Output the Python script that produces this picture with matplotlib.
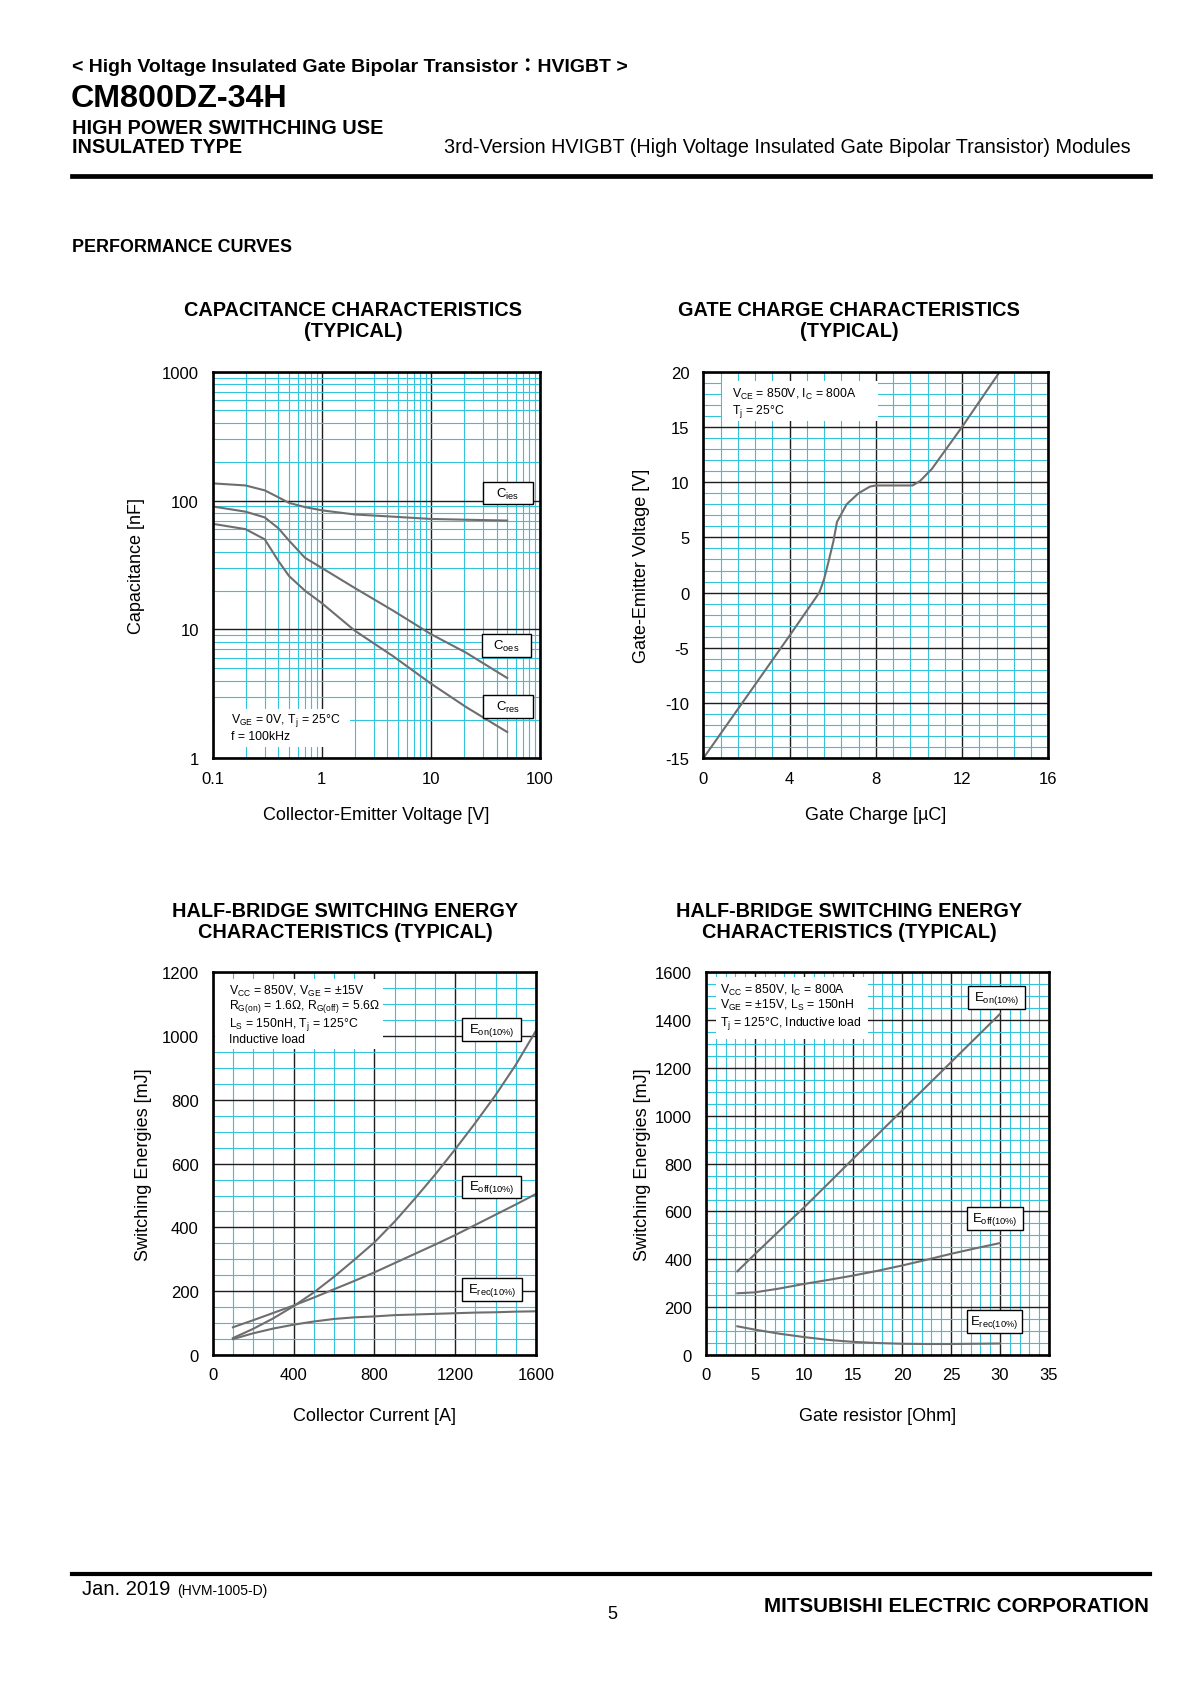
import matplotlib
matplotlib.use("Agg")
import matplotlib.pyplot as plt
from matplotlib import font_manager
from matplotlib.patches import Rectangle
from matplotlib.ticker import MultipleLocator, NullFormatter

plt.rcParams['font.family'] = ['Liberation Sans', 'Noto Sans CJK JP', 'DejaVu Sans']
plt.rcParams['mathtext.fontset'] = 'custom'
plt.rcParams['mathtext.rm'] = 'Liberation Sans'
plt.rcParams['mathtext.it'] = 'Liberation Sans:italic'
plt.rcParams['mathtext.bf'] = 'Liberation Sans:bold'
plt.rcParams['axes.unicode_minus'] = False

W, H = 1190, 1683
CYAN = '#33c3db'
MAJOR = '#1e1e1e'
CURVE = '#6e6e6e'

# capacitance characteristics
cap_vce = [0.1, 0.2, 0.3, 0.4, 0.5, 0.7, 1, 2, 4.5, 10, 21, 50]
cap_cies = [136, 131, 120, 106, 96, 89, 84, 78, 75, 72, 71, 70]
cap_coes = [90, 82, 74, 61, 49, 36, 30, 21, 14, 9.2, 6.6, 4.2]
cap_cres = [66, 60, 50, 34, 26, 20, 16, 9.8, 6.2, 3.8, 2.5, 1.6]
cap_xticks = [0.1, 1, 10, 100]
cap_xticklabels = ['0.1', '1', '10', '100']
cap_yticks = [1, 10, 100, 1000]
cap_yticklabels = ['1', '10', '100', '1000']

# gate charge characteristics
qg = [0, 2, 4, 5.38, 5.6, 5.8, 6.03, 6.2, 6.65, 7.2, 7.73, 8.0, 9.7, 10.05, 10.6, 12, 13.75]
vge = [-15, -9.45, -3.9, 0, 1.2, 2.75, 4.6, 6.4, 8.0, 9.0, 9.6, 9.7, 9.7, 10.1, 11.2, 15, 20]

# switching energy vs collector current
ic = [100, 200, 300, 400, 500, 600, 700, 800, 900, 1000, 1100, 1200, 1300, 1400, 1500, 1600]
eon_ic = [53, 82, 115, 153, 196, 245, 298, 353, 418, 490, 565, 645, 728, 815, 910, 1017]
eoff_ic = [87, 109, 132, 155, 180, 206, 232, 259, 288, 317, 346, 376, 408, 440, 472, 505]
erec_ic = [50, 68, 83, 95, 105, 113, 118, 121, 125, 127, 129, 131, 133, 134, 136, 137]

# switching energy vs gate resistor
rg = [3.2, 5, 7.5, 10, 12.5, 15, 17.5, 20, 22.5, 25, 27.5, 30]
eon_rg = [350, 422, 520, 617, 718, 820, 921, 1022, 1123, 1224, 1325, 1426]
eoff_rg = [258, 262, 278, 297, 314, 332, 352, 374, 398, 423, 446, 468]
erec_rg = [120, 106, 89, 75, 63, 55, 50, 47, 46, 46, 47, 48]

fig = plt.figure(figsize=(11.9, 16.83), dpi=100)


def fx(x):
    return x / W


def fy(y):
    return 1 - y / H


def px_axes(l, t, r, b):
    return fig.add_axes([l / W, 1 - b / H, (r - l) / W, (b - t) / H])


def style(ax, xlabel, ylabel, xlab_y, ylab_x):
    ax.set_axisbelow(True)
    ax.grid(which='minor', color=CYAN, lw=0.8)
    ax.grid(which='major', color=MAJOR, lw=1.0)
    ax.tick_params(which='both', length=0, labelsize=12)
    ax.tick_params(axis='x', pad=9)
    ax.tick_params(axis='y', pad=10)
    for s in ax.spines.values():
        s.set_linewidth(1.9)
    ax.set_xlabel(xlabel, fontsize=13, va='center')
    ax.set_ylabel(ylabel, fontsize=13, va='center')
    ax.xaxis.set_label_coords(0.5, xlab_y)
    ax.yaxis.set_label_coords(ylab_x, 0.5)


def label_box(ax, x0, x1, y0, y1, txt):
    ax.add_patch(Rectangle((x0, y0), x1 - x0, y1 - y0, transform=ax.transAxes,
                           fc='white', ec='black', lw=1.0, zorder=4))
    ax.text((x0 + x1) / 2, (y0 + y1) / 2, txt, transform=ax.transAxes,
            ha='center', va='center', fontsize=9.5, zorder=5)


def cond_box(ax, x0, x1, y0, y1, tx, lines_y, lines):
    ax.add_patch(Rectangle((x0, y0), x1 - x0, y1 - y0, transform=ax.transAxes,
                           fc='white', ec='none', zorder=1))
    for ly, t in zip(lines_y, lines):
        ax.text(tx, ly, t, transform=ax.transAxes, ha='left', va='center',
                fontsize=8.8, zorder=5)


# ---- header ----
fig.text(fx(72), fy(67), '< High Voltage Insulated Gate Bipolar Transistor：HVIGBT >',
         fontsize=14, fontweight='bold', va='center')
fig.text(fx(71), fy(99), 'CM800DZ-34H', fontsize=23.2, fontweight='bold', va='center')
fig.text(fx(72), fy(128), 'HIGH POWER SWITHCHING USE', fontsize=14.3, fontweight='bold', va='center')
fig.text(fx(72), fy(147.5), 'INSULATED TYPE', fontsize=14.3, fontweight='bold', va='center')
fig.text(fx(444), fy(147.5),
         '3rd-Version HVIGBT (High Voltage Insulated Gate Bipolar Transistor) Modules',
         fontsize=14.2, va='center')
fig.add_artist(plt.Line2D([fx(72), fx(1150)], [fy(177), fy(177)], color='black', lw=3.4))
fig.text(fx(72), fy(247), 'PERFORMANCE CURVES', fontsize=12.9, fontweight='bold', va='center')

# ---- chart titles ----
fig.text(fx(353), fy(321), 'CAPACITANCE CHARACTERISTICS\n(TYPICAL)', fontsize=14.3,
         fontweight='bold', ha='center', va='center', linespacing=1.15)
fig.text(fx(849), fy(321), 'GATE CHARGE CHARACTERISTICS\n(TYPICAL)', fontsize=14.3,
         fontweight='bold', ha='center', va='center', linespacing=1.15)
fig.text(fx(345), fy(922), 'HALF-BRIDGE SWITCHING ENERGY\nCHARACTERISTICS (TYPICAL)', fontsize=14.3,
         fontweight='bold', ha='center', va='center', linespacing=1.15)
fig.text(fx(849), fy(922), 'HALF-BRIDGE SWITCHING ENERGY\nCHARACTERISTICS (TYPICAL)', fontsize=14.3,
         fontweight='bold', ha='center', va='center', linespacing=1.15)

# ---- capacitance ----
ax1 = px_axes(212.7, 372.7, 540, 759.3)
ax1.set_xscale('log')
ax1.set_yscale('log')
ax1.set_xlim(0.1, 100)
ax1.set_ylim(1, 1000)
ax1.set_xticks(cap_xticks, labels=cap_xticklabels)
ax1.set_yticks(cap_yticks, labels=cap_yticklabels)
ax1.xaxis.set_minor_formatter(NullFormatter())
ax1.yaxis.set_minor_formatter(NullFormatter())
style(ax1, 'Collector-Emitter Voltage [V]', 'Capacitance [nF]', -0.145, -0.233)
for ys in (cap_cies, cap_coes, cap_cres):
    ax1.plot(cap_vce, ys, color=CURVE, lw=1.5, zorder=2)
label_box(ax1, 0.827, 0.978, 0.657, 0.715, r'C$_{\rm ies}$')
label_box(ax1, 0.823, 0.973, 0.261, 0.321, r'C$_{\rm oes}$')
label_box(ax1, 0.827, 0.978, 0.104, 0.164, r'C$_{\rm res}$')
cond_box(ax1, 0.007, 0.42, 0.029, 0.128, 0.056, [0.100, 0.058],
         [r'V$_{\rm GE}$ = 0V, T$_{\rm j}$ = 25°C', 'f = 100kHz'])

# ---- gate charge ----
ax2 = px_axes(703.3, 372.7, 1048.3, 759.3)
ax2.set_xlim(0, 16)
ax2.set_ylim(-15, 20)
ax2.xaxis.set_major_locator(MultipleLocator(4))
ax2.xaxis.set_minor_locator(MultipleLocator(0.8))
ax2.yaxis.set_major_locator(MultipleLocator(5))
ax2.yaxis.set_minor_locator(MultipleLocator(1))
style(ax2, 'Gate Charge [µC]', 'Gate-Emitter Voltage [V]', -0.145, -0.180)
ax2.plot(qg, vge, color=CURVE, lw=1.5, zorder=2)
cond_box(ax2, 0.053, 0.506, 0.873, 0.977, 0.082, [0.945, 0.900],
         [r'V$_{\rm CE}$ = 850V, I$_{\rm C}$ = 800A', r'T$_{\rm j}$ = 25°C'])

# ---- switching energy vs Ic ----
ax3 = px_axes(212.7, 973.3, 536, 1356)
ax3.set_xlim(0, 1600)
ax3.set_ylim(0, 1200)
ax3.xaxis.set_major_locator(MultipleLocator(400))
ax3.xaxis.set_minor_locator(MultipleLocator(100))
ax3.yaxis.set_major_locator(MultipleLocator(200))
ax3.yaxis.set_minor_locator(MultipleLocator(50))
style(ax3, 'Collector Current [A]', 'Switching Energies [mJ]', -0.158, -0.213)
for ys in (eon_ic, eoff_ic, erec_ic):
    ax3.plot(ic, ys, color=CURVE, lw=1.5, zorder=2)
label_box(ax3, 0.772, 0.954, 0.820, 0.880, r'E$_{\rm on(10\%)}$')
label_box(ax3, 0.770, 0.954, 0.410, 0.469, r'E$_{\rm off(10\%)}$')
label_box(ax3, 0.772, 0.956, 0.140, 0.200, r'E$_{\rm rec(10\%)}$')
cond_box(ax3, 0.007, 0.526, 0.800, 0.982, 0.05, [0.953, 0.912, 0.866, 0.825],
         [r'V$_{\rm CC}$ = 850V, V$_{\rm GE}$ = ±15V',
          r'R$_{\rm G(on)}$ = 1.6Ω, R$_{\rm G(off)}$ = 5.6Ω',
          r'L$_{\rm S}$ = 150nH, T$_{\rm j}$ = 125°C',
          'Inductive load'])

# ---- switching energy vs Rg ----
ax4 = px_axes(706, 973.3, 1049, 1356)
ax4.set_xlim(0, 35)
ax4.set_ylim(0, 1600)
ax4.xaxis.set_major_locator(MultipleLocator(5))
ax4.xaxis.set_minor_locator(MultipleLocator(1))
ax4.yaxis.set_major_locator(MultipleLocator(200))
ax4.yaxis.set_minor_locator(MultipleLocator(50))
style(ax4, 'Gate resistor [Ohm]', 'Switching Energies [mJ]', -0.158, -0.186)
for ys in (eon_rg, eoff_rg, erec_rg):
    ax4.plot(rg, ys, color=CURVE, lw=1.5, zorder=2)
label_box(ax4, 0.765, 0.930, 0.904, 0.964, r'E$_{\rm on(10\%)}$')
label_box(ax4, 0.760, 0.925, 0.327, 0.387, r'E$_{\rm off(10\%)}$')
label_box(ax4, 0.760, 0.921, 0.057, 0.118, r'E$_{\rm rec(10\%)}$')
cond_box(ax4, 0.029, 0.472, 0.826, 0.988, 0.041, [0.956, 0.917, 0.869],
         [r'V$_{\rm CC}$ = 850V, I$_{\rm C}$ = 800A',
          r'V$_{\rm GE}$ = ±15V, L$_{\rm S}$ = 150nH',
          r'T$_{\rm j}$ = 125°C, Inductive load'])

# ---- footer ----
fig.add_artist(plt.Line2D([fx(72), fx(1150)], [fy(1574.5), fy(1574.5)], color='black', lw=3.0))
fig.text(fx(82), fy(1595), 'Jan. 2019', fontsize=14.5, va='baseline')
fig.text(fx(177), fy(1595), '(HVM-1005-D)', fontsize=10, va='baseline')
fig.text(fx(612), fy(1619), '5', fontsize=13, ha='center', va='baseline')
names = {f.name for f in font_manager.fontManager.ttflist}
if 'Liberation Sans Narrow' in names:
    fig.text(fx(1149), fy(1612.5), 'MITSUBISHI ELECTRIC CORPORATION', fontsize=17,
             fontweight='bold', family='Liberation Sans Narrow', ha='right', va='baseline')
else:
    fig.text(fx(1149), fy(1612.5), 'MITSUBISHI ELECTRIC CORPORATION', fontsize=14.8,
             fontweight='bold', ha='right', va='baseline')

fig.savefig('out.png', dpi=100, facecolor='white')
